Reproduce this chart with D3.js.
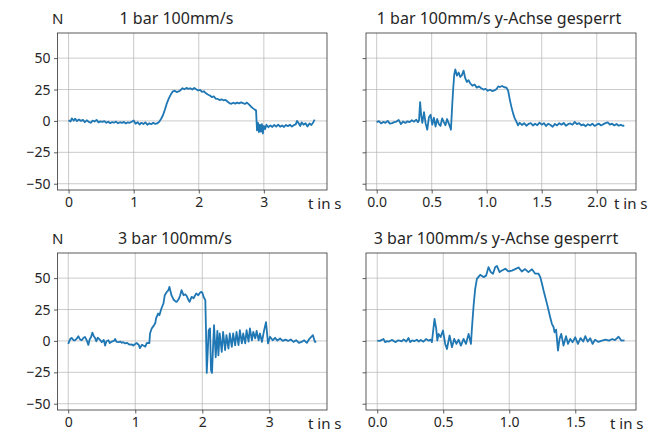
<!DOCTYPE html>
<html lang="de">
<head>
<meta charset="utf-8">
<title>Kraftverlauf</title>
<script src="https://d3js.org/d3.v7.min.js"></script>
<style>
  body { margin: 0; background: #fff; font-family: "Noto Sans", sans-serif; }
  .grid line { stroke: #b0b0b0; stroke-opacity: 0.75; stroke-width: 0.9; }
  .axis path { display: none; }
  .axis line { stroke: #333; stroke-width: 0.8; }
  .axis text { fill: #262626; font-size: 14px; font-family: "Noto Sans", sans-serif; }
  .title { fill: #262626; font-size: 16px; }
  .lbl { fill: #262626; font-size: 15px; }
</style>
</head>
<body>
<div id="chart"></div>
<script>
// --- data ---
var yTicks = [-50, -25, 0, 25, 50];

// 1 bar 100mm/s
var tA = [0.00,0.03,0.05,0.08,0.10,0.13,0.16,0.19,0.22,0.25,0.28,0.31,0.34,0.37,0.40,0.43,0.46,0.49,0.52,0.55,
  0.58,0.61,0.64,0.67,0.70,0.73,0.76,0.79,0.82,0.85,0.88,0.91,0.94,0.97,1.00,1.03,1.06,1.09,1.12,1.15,
  1.18,1.21,1.24,1.27,1.30,1.33,1.36,1.39,1.42,1.45,1.48,1.51,1.54,1.57,1.60,1.63,1.66,1.69,1.72,1.75,
  1.78,1.81,1.84,1.87,1.90,1.93,1.96,1.99,2.02,2.05,2.08,2.11,2.14,2.17,2.20,2.23,2.26,2.29,2.32,2.35,
  2.38,2.41,2.44,2.47,2.50,2.53,2.56,2.59,2.62,2.65,2.68,2.71,2.74,2.77,2.80,2.83,2.86,2.88,2.895,2.91,
  2.925,2.94,2.955,2.97,2.985,3.00,3.02,3.04,3.07,3.10,3.13,3.16,3.19,3.22,3.25,3.28,3.31,3.34,3.37,3.40,
  3.43,3.46,3.49,3.51,3.53,3.56,3.58,3.61,3.64,3.67,3.70,3.73,3.76,3.78];
var fA = [0.5,-0.5,2.0,0.3,1.8,-0.2,1.2,0.0,0.8,-1.0,0.5,-0.8,-1.5,0.2,-0.5,0.8,-1.2,-0.3,-0.8,-0.2,
  -1.5,-0.6,-1.8,-0.9,-1.4,-0.5,-1.9,-1.0,-1.6,-0.8,-2.0,-1.1,-1.5,-0.6,0.3,-2.2,-1.0,-2.8,-1.5,-2.5,
  -1.2,-3.0,-1.8,-2.6,-1.4,-2.4,-2.0,-0.8,1.5,4.5,9.0,14.0,18.0,21.0,23.5,24.0,23.0,23.5,24.5,26.0,
  25.2,26.3,25.5,26.0,25.0,26.2,25.2,24.2,24.8,23.2,23.6,22.0,21.0,20.2,19.0,19.5,17.8,17.5,16.6,17.2,
  16.4,16.8,15.5,14.2,13.6,14.5,13.8,14.6,14.0,14.8,14.2,13.5,14.6,13.2,11.5,10.2,9.0,8.4,-7.5,-1.5,
  -9.0,-3.0,-8.5,-2.5,-10.0,-4.0,-6.5,-3.0,-5.0,-3.5,-4.8,-3.2,-4.5,-3.0,-4.6,-3.6,-4.8,-3.2,-4.2,-3.0,
  -4.5,-3.4,-2.8,0.0,-1.5,-4.0,-1.2,-3.0,-1.8,-4.5,-2.0,-3.2,-1.0,1.0];

// 1 bar 100mm/s y-Achse gesperrt
var tB = [0.00,0.02,0.04,0.06,0.08,0.10,0.12,0.14,0.16,0.18,0.20,0.22,0.24,0.26,0.28,0.30,0.32,0.34,0.36,0.375,
  0.385,0.395,0.405,0.415,0.43,0.445,0.46,0.475,0.49,0.505,0.52,0.535,0.55,0.565,0.58,0.595,0.61,0.625,0.64,0.655,
  0.67,0.675,0.685,0.695,0.705,0.715,0.73,0.745,0.76,0.775,0.79,0.805,0.82,0.835,0.85,0.87,0.89,0.91,0.93,0.95,
  0.97,0.99,1.01,1.03,1.05,1.07,1.09,1.105,1.12,1.14,1.16,1.18,1.195,1.21,1.225,1.24,1.255,1.27,1.285,1.30,
  1.32,1.34,1.36,1.38,1.40,1.42,1.44,1.46,1.48,1.50,1.52,1.54,1.56,1.58,1.60,1.62,1.64,1.66,1.68,1.70,
  1.72,1.74,1.76,1.78,1.80,1.82,1.84,1.86,1.88,1.90,1.92,1.94,1.96,1.98,2.00,2.02,2.04,2.06,2.08,2.10,
  2.12,2.14,2.16,2.18,2.20,2.22,2.24,2.25];
var fB = [-1.0,-0.2,-2.0,-0.8,-1.5,0.0,-2.2,-1.8,-1.0,-0.5,0.8,-2.5,-0.5,-1.6,-0.3,-1.0,0.5,-0.6,1.0,-1.0,
  0.5,15.0,4.0,-1.5,7.0,-2.0,-7.0,3.0,5.0,-3.0,2.5,-4.5,1.5,-2.5,-4.0,2.0,-1.0,-3.5,1.5,-2.0,
  -5.5,-7.0,10.0,25.0,37.0,41.0,36.0,38.5,35.0,36.5,40.0,34.0,31.0,32.5,30.0,28.0,29.0,26.5,27.5,26.0,
  25.0,25.5,24.0,24.8,23.8,24.3,25.5,27.5,27.0,27.8,26.8,26.5,24.0,17.0,11.0,6.0,2.0,-0.5,-3.5,-1.5,
  -3.2,-1.8,-3.8,-2.4,-1.8,-3.6,-2.2,-3.4,-1.4,-3.0,-1.8,-4.0,-2.2,-3.2,-4.6,-2.4,-3.6,-1.8,-3.0,-1.6,
  -3.8,-2.6,-2.0,-3.0,-0.8,-2.6,-1.8,-3.6,-2.8,-4.2,-2.6,-3.6,-2.2,-4.0,-3.0,-2.2,-3.6,-2.6,-1.8,-1.2,
  -3.0,-2.2,-3.6,-2.4,-3.8,-3.2,-4.0,-3.4];

// 3 bar 100mm/s
var tC = [0.00,0.03,0.05,0.08,0.10,0.13,0.15,0.18,0.20,0.23,0.25,0.28,0.30,0.32,0.34,0.36,0.38,0.40,0.42,0.44,
  0.46,0.48,0.50,0.53,0.55,0.57,0.60,0.62,0.65,0.68,0.70,0.72,0.75,0.78,0.80,0.82,0.85,0.88,0.90,0.92,
  0.95,0.97,1.00,1.02,1.05,1.07,1.10,1.12,1.15,1.17,1.19,1.21,1.22,1.245,1.26,1.28,1.30,1.31,1.34,1.36,
  1.39,1.42,1.44,1.47,1.49,1.51,1.54,1.57,1.60,1.62,1.65,1.67,1.69,1.72,1.75,1.77,1.79,1.81,1.84,1.87,
  1.89,1.91,1.94,1.96,1.98,2.00,2.02,2.045,2.055,2.066,2.08,2.095,2.115,2.13,2.145,2.16,2.175,2.20,2.225,2.24,
  2.26,2.29,2.31,2.34,2.36,2.39,2.41,2.44,2.46,2.49,2.51,2.54,2.56,2.59,2.61,2.64,2.66,2.69,2.71,2.74,
  2.76,2.79,2.81,2.84,2.86,2.89,2.92,2.95,2.98,3.01,3.05,3.085,3.12,3.16,3.20,3.24,3.28,3.32,3.36,3.40,
  3.44,3.48,3.52,3.56,3.60,3.65,3.68,3.70];
var fC = [-2.4,1.5,2.4,0.5,0.5,2.0,3.7,1.0,0.5,2.5,3.2,0.0,-3.2,1.3,3.0,6.6,4.0,2.4,-0.3,2.5,
  1.6,0.5,-1.0,0.8,-3.7,-0.3,0.5,-1.7,-0.5,0.0,1.6,-0.8,-1.0,-0.5,-1.5,-1.0,-2.0,-1.5,-2.5,-3.0,
  -2.8,-3.7,-2.5,-1.7,-3.0,-5.7,-3.0,-3.7,-4.5,-1.7,-1.6,-1.8,5.9,9.9,11.0,12.5,14.5,17.9,21.8,20.5,
  25.8,29.8,36.4,39.0,40.0,43.0,36.4,33.0,31.5,31.1,33.5,36.4,40.4,36.4,37.0,35.5,33.0,31.1,35.1,34.0,
  36.0,37.8,36.4,38.0,39.0,38.5,35.0,32.5,8.5,-25.5,-10.0,8.5,10.0,-23.5,-25.5,-5.0,12.5,-13.0,8.0,-11.4,
  5.9,-8.8,7.2,-7.4,4.6,-6.1,5.9,-4.8,5.9,-3.5,7.2,-3.4,8.5,-2.0,5.9,-2.0,8.5,-0.5,9.9,0.5,
  7.2,2.0,8.0,0.5,5.9,-0.8,8.0,15.0,-2.0,3.3,0.5,2.5,0.3,1.9,0.0,1.0,0.0,1.2,-0.8,0.6,
  -1.5,-0.8,0.5,-1.5,1.9,4.6,-0.8,-0.5];

// 3 bar 100mm/s y-Achse gesperrt
var tD = [0.00,0.02,0.035,0.048,0.06,0.075,0.09,0.11,0.125,0.14,0.155,0.17,0.185,0.20,0.22,0.237,0.25,0.265,0.28,0.30,
  0.315,0.33,0.35,0.37,0.39,0.405,0.414,0.434,0.447,0.455,0.465,0.48,0.498,0.515,0.528,0.548,0.566,0.583,0.60,0.616,
  0.634,0.654,0.672,0.692,0.71,0.717,0.73,0.742,0.755,0.78,0.805,0.825,0.843,0.86,0.877,0.894,0.907,0.927,0.945,0.97,
  0.995,1.02,1.045,1.07,1.095,1.12,1.145,1.172,1.197,1.222,1.235,1.248,1.26,1.273,1.286,1.298,1.31,1.323,1.336,1.343,
  1.355,1.369,1.381,1.394,1.411,1.43,1.445,1.462,1.48,1.50,1.52,1.54,1.56,1.576,1.595,1.613,1.631,1.65,1.675,1.702,
  1.73,1.755,1.78,1.80,1.828,1.85,1.873];
var fD = [0.3,0.0,0.8,1.5,-1.0,-0.2,-0.5,0.8,0.0,-1.0,0.5,0.2,-0.3,1.2,-0.5,2.3,-1.0,0.5,-0.2,1.0,
  -0.5,0.8,-0.6,1.5,0.2,1.0,-1.0,17.5,9.6,0.3,5.6,3.0,8.3,-2.4,-6.4,4.3,-5.0,1.6,-2.4,1.0,
  -3.7,1.6,-2.4,5.6,-2.4,9.6,28.2,41.5,49.4,52.6,50.8,52.0,58.8,54.8,53.5,58.8,59.6,54.8,56.0,57.5,
  55.3,56.0,57.2,58.5,55.3,57.2,54.8,57.0,53.5,53.5,50.8,45.5,40.1,34.8,29.5,24.2,18.9,13.6,10.9,6.9,
  9.0,-7.7,1.6,5.6,-3.7,3.8,-2.4,1.6,-1.0,2.9,-2.4,2.2,-0.5,3.8,-0.5,2.2,-2.4,1.0,-0.8,0.2,
  1.0,0.2,1.5,0.6,3.3,0.2,0.5];

// --- layout of the four panels ---
var W = 662, H = 432;
var panels = [
  {t: tA, f: fA, title: "1 bar 100mm/s", x0: 57.5, x1: 327, y0: 33, y1: 190,
   xDom: [-0.17, 3.97], xTicks: [0, 1, 2, 3], fmt: d3.format("d"), yLab: true, titleX: 176.5, xLabX: 308},
  {t: tB, f: fB, title: "1 bar 100mm/s y-Achse gesperrt", x0: 366, x1: 636, y0: 33, y1: 190,
   xDom: [-0.097, 2.357], xTicks: [0, 0.5, 1, 1.5, 2], fmt: d3.format(".1f"), yLab: false, titleX: 499, xLabX: 614},
  {t: tC, f: fC, title: "3 bar 100mm/s", x0: 57.5, x1: 327, y0: 253, y1: 410,
   xDom: [-0.16, 3.86], xTicks: [0, 1, 2, 3], fmt: d3.format("d"), yLab: true, titleX: 175, xLabX: 308},
  {t: tD, f: fD, title: "3 bar 100mm/s y-Achse gesperrt", x0: 366, x1: 636, y0: 253, y1: 410,
   xDom: [-0.085, 1.96], xTicks: [0, 0.5, 1, 1.5], fmt: d3.format(".1f"), yLab: false, titleX: 496, xLabX: 610}
];

var svg = d3.select("#chart").append("svg")
  .attr("width", W).attr("height", H);

panels.forEach(function(p) {
  var x = d3.scaleLinear().domain(p.xDom).range([p.x0, p.x1]);
  var y = d3.scaleLinear().domain([-55, 70]).range([p.y1, p.y0]);

  // grid
  var g = svg.append("g").attr("class", "grid");
  g.selectAll(".gx").data(p.xTicks).enter().append("line")
    .attr("x1", function(d) { return x(d); }).attr("x2", function(d) { return x(d); })
    .attr("y1", p.y0).attr("y2", p.y1);
  g.selectAll(".gy").data(yTicks).enter().append("line")
    .attr("x1", p.x0).attr("x2", p.x1)
    .attr("y1", function(d) { return y(d); }).attr("y2", function(d) { return y(d); });

  // the curve
  var pts = p.t.map(function(t, i) { return [t, p.f[i]]; });
  svg.append("path")
    .datum(pts)
    .attr("fill", "none")
    .attr("stroke", "#1f77b4")
    .attr("stroke-width", 1.8)
    .attr("stroke-linejoin", "round")
    .attr("d", d3.line().x(function(d) { return x(d[0]); }).y(function(d) { return y(d[1]); }));

  // axes
  svg.append("g").attr("class", "axis")
    .attr("transform", "translate(0," + p.y1 + ")")
    .call(d3.axisBottom(x).tickValues(p.xTicks).tickFormat(p.fmt).tickSize(3.5).tickPadding(3.5));
  var ya = d3.axisLeft(y).tickValues(yTicks).tickSize(3.5).tickPadding(3.5);
  if (!p.yLab) ya.tickFormat("");
  svg.append("g").attr("class", "axis")
    .attr("transform", "translate(" + p.x0 + ",0)")
    .call(ya);
  svg.selectAll(".axis").attr("font-family", null).attr("font-size", null);

  // frame
  svg.append("rect")
    .attr("x", p.x0).attr("y", p.y0)
    .attr("width", p.x1 - p.x0).attr("height", p.y1 - p.y0)
    .attr("fill", "none").attr("stroke", "#333").attr("stroke-width", 0.8);

  // texts
  svg.append("text").attr("class", "title")
    .attr("x", p.titleX).attr("y", p.y0 - 9)
    .attr("text-anchor", "middle")
    .text(p.title);
  svg.append("text").attr("class", "lbl")
    .attr("x", p.xLabX).attr("y", p.y1 + 19)
    .text("t in s");
  if (p.yLab) {
    svg.append("text").attr("class", "lbl")
      .attr("x", 52).attr("y", p.y0 - 9)
      .text("N");
  }
});
</script>
</body>
</html>
